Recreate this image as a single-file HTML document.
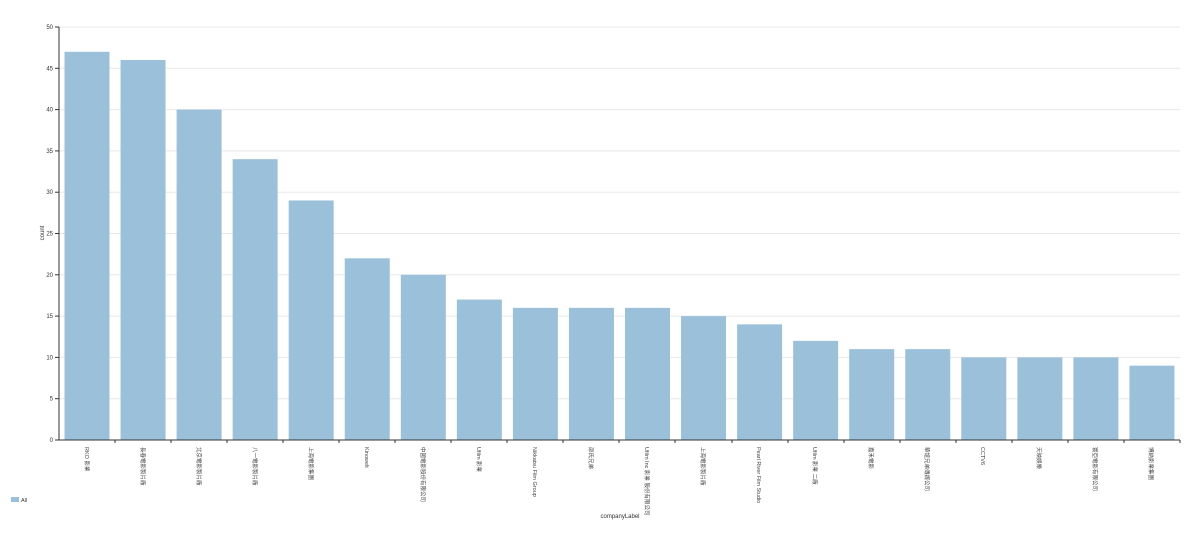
<!DOCTYPE html><html><head><meta charset="utf-8"><style>body{margin:0;background:#fff}svg{font-family:"Liberation Sans","Noto Sans CJK TC",sans-serif}</style></head><body>
<svg width="1200" height="531" xmlns="http://www.w3.org/2000/svg">
<g stroke="#e8e8e8">
<line x1="59" x2="1180" y1="398.7" y2="398.7"/><line x1="59" x2="1180" y1="357.4" y2="357.4"/><line x1="59" x2="1180" y1="316.1" y2="316.1"/><line x1="59" x2="1180" y1="274.8" y2="274.8"/><line x1="59" x2="1180" y1="233.5" y2="233.5"/><line x1="59" x2="1180" y1="192.2" y2="192.2"/><line x1="59" x2="1180" y1="150.9" y2="150.9"/><line x1="59" x2="1180" y1="109.6" y2="109.6"/><line x1="59" x2="1180" y1="68.3" y2="68.3"/><line x1="59" x2="1180" y1="27" y2="27"/>
</g>
<g stroke="#333">
<line x1="55" x2="59" y1="440" y2="440"/><line x1="55" x2="59" y1="398.7" y2="398.7"/><line x1="55" x2="59" y1="357.4" y2="357.4"/><line x1="55" x2="59" y1="316.1" y2="316.1"/><line x1="55" x2="59" y1="274.8" y2="274.8"/><line x1="55" x2="59" y1="233.5" y2="233.5"/><line x1="55" x2="59" y1="192.2" y2="192.2"/><line x1="55" x2="59" y1="150.9" y2="150.9"/><line x1="55" x2="59" y1="109.6" y2="109.6"/><line x1="55" x2="59" y1="68.3" y2="68.3"/><line x1="55" x2="59" y1="27" y2="27"/>
</g>
<g font-size="6" text-anchor="end" fill="#333">
<text x="53" y="442">0</text><text x="53" y="400.7">5</text><text x="53" y="359.4">10</text><text x="53" y="318.1">15</text><text x="53" y="276.8">20</text><text x="53" y="235.5">25</text><text x="53" y="194.2">30</text><text x="53" y="152.9">35</text><text x="53" y="111.6">40</text><text x="53" y="70.3">45</text><text x="53" y="29">50</text>
</g>
<g fill="#9bc0da">
<rect x="64.5" y="51.78" width="45" height="388.22"/>
<rect x="120.55" y="60.04" width="45" height="379.96"/>
<rect x="176.6" y="109.6" width="45" height="330.4"/>
<rect x="232.65" y="159.16" width="45" height="280.84"/>
<rect x="288.7" y="200.46" width="45" height="239.54"/>
<rect x="344.75" y="258.28" width="45" height="181.72"/>
<rect x="400.8" y="274.8" width="45" height="165.2"/>
<rect x="456.85" y="299.58" width="45" height="140.42"/>
<rect x="512.9" y="307.84" width="45" height="132.16"/>
<rect x="568.95" y="307.84" width="45" height="132.16"/>
<rect x="625" y="307.84" width="45" height="132.16"/>
<rect x="681.05" y="316.1" width="45" height="123.9"/>
<rect x="737.1" y="324.36" width="45" height="115.64"/>
<rect x="793.15" y="340.88" width="45" height="99.12"/>
<rect x="849.2" y="349.14" width="45" height="90.86"/>
<rect x="905.25" y="349.14" width="45" height="90.86"/>
<rect x="961.3" y="357.4" width="45" height="82.6"/>
<rect x="1017.35" y="357.4" width="45" height="82.6"/>
<rect x="1073.4" y="357.4" width="45" height="82.6"/>
<rect x="1129.45" y="365.66" width="45" height="74.34"/>
</g>
<g stroke="#333">
<line x1="59" x2="59" y1="27" y2="440"/><line x1="59" x2="1180" y1="440" y2="440"/>
<line x1="115" x2="115" y1="440" y2="443"/><line x1="171" x2="171" y1="440" y2="443"/><line x1="227" x2="227" y1="440" y2="443"/><line x1="283" x2="283" y1="440" y2="443"/><line x1="339" x2="339" y1="440" y2="443"/><line x1="395" x2="395" y1="440" y2="443"/><line x1="451" x2="451" y1="440" y2="443"/><line x1="507" x2="507" y1="440" y2="443"/><line x1="563" x2="563" y1="440" y2="443"/><line x1="619" x2="619" y1="440" y2="443"/><line x1="675" x2="675" y1="440" y2="443"/><line x1="732" x2="732" y1="440" y2="443"/><line x1="788" x2="788" y1="440" y2="443"/><line x1="844" x2="844" y1="440" y2="443"/><line x1="900" x2="900" y1="440" y2="443"/><line x1="956" x2="956" y1="440" y2="443"/><line x1="1012" x2="1012" y1="440" y2="443"/><line x1="1068" x2="1068" y1="440" y2="443"/><line x1="1124" x2="1124" y1="440" y2="443"/><line x1="1180" x2="1180" y1="440" y2="443"/>
</g>
<g font-size="5.5" fill="#444">
<text transform="translate(85,447) rotate(90)">RKO 影業</text>
<text transform="translate(141,447) rotate(90)">長春電影製片廠</text>
<text transform="translate(197,447) rotate(90)">北京電影製片廠</text>
<text transform="translate(253,447) rotate(90)">八一電影製片廠</text>
<text transform="translate(309,447) rotate(90)">上海電影集團</text>
<text transform="translate(365,447) rotate(90)">Kinowelt</text>
<text transform="translate(421,447) rotate(90)">中國電影股份有限公司</text>
<text transform="translate(477,447) rotate(90)">Ufilm 影業</text>
<text transform="translate(533,447) rotate(90)">Nikkatsu Film Group</text>
<text transform="translate(589,447) rotate(90)">邵氏兄弟</text>
<text transform="translate(645,447) rotate(90)">Ufilm Inc 影業 股份有限公司</text>
<text transform="translate(701,447) rotate(90)">上海電影製片廠</text>
<text transform="translate(757,447) rotate(90)">Pearl River Film Studio</text>
<text transform="translate(813,447) rotate(90)">Ufilm 影業 二廠</text>
<text transform="translate(869,447) rotate(90)">嘉禾電影</text>
<text transform="translate(925,447) rotate(90)">華誼兄弟傳媒公司</text>
<text transform="translate(981,447) rotate(90)">CCTV6</text>
<text transform="translate(1037,447) rotate(90)">天映娛樂</text>
<text transform="translate(1093,447) rotate(90)">寰亞電影有限公司</text>
<text transform="translate(1149,447) rotate(90)">博納影業集團</text>
</g>
<text x="620" y="518" font-size="6" text-anchor="middle" fill="#333">companyLabel</text>
<text transform="translate(44,233) rotate(-90)" font-size="6" text-anchor="middle" fill="#333">count</text>
<rect x="11" y="497" width="8" height="5" fill="#9bc0da"/><text x="21" y="502" font-size="5.5" fill="#333">All</text>
</svg></body></html>
